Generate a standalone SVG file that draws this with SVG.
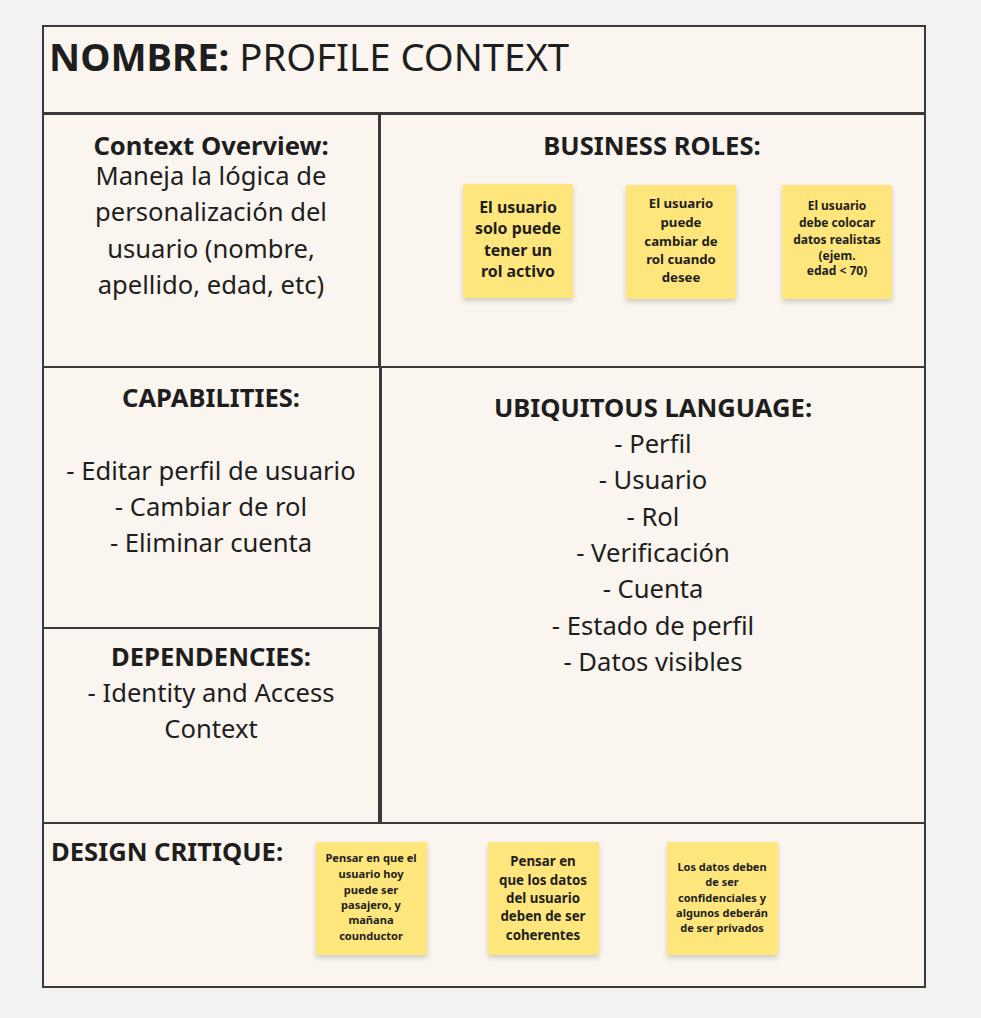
<svg xmlns="http://www.w3.org/2000/svg" width="981" height="1018" viewBox="0 0 981 1018">
  <defs>
    <filter id="stickyShadow" x="-20%" y="-20%" width="140%" height="150%">
      <feDropShadow dx="0" dy="3" stdDeviation="2.5" flood-color="#000" flood-opacity="0.18"/>
    </filter>
  </defs>
  <style>
    text { font-family: "Noto Sans", "Open Sans", sans-serif; fill: #1e1e1e; }
    .panel { fill: #faf6ef; stroke: #3a3a3a; stroke-width: 2; }
    .h { font-weight: 700; font-size: 25.6px; text-anchor: middle; }
    .b { font-size: 25.6px; text-anchor: middle; }
    .sticky { fill: #fee67c; filter: url(#stickyShadow); }
    .st { font-weight: 700; text-anchor: middle; }
  </style>

  <rect width="981" height="1018" fill="#f2f2f2"/>

  <!-- title -->
  <g id="title">
    <rect class="panel" x="43" y="26" width="882" height="87"/>
    <text x="49" y="71" style="font-size:38.3px"><tspan font-weight="700">NOMBRE:</tspan> PROFILE CONTEXT</text>
  </g>

  <!-- context overview -->
  <g id="overview">
    <rect class="panel" x="43" y="114" width="336" height="253"/>
    <text class="h" x="211" y="155">Context Overview:</text>
    <text class="b" x="211" y="185">Maneja la lógica de</text>
    <text class="b" x="211" y="221">personalización del</text>
    <text class="b" x="211" y="258">usuario (nombre,</text>
    <text class="b" x="211" y="294">apellido, edad, etc)</text>
  </g>

  <!-- business roles -->
  <g id="business-roles">
    <rect class="panel" x="380" y="114" width="545" height="253"/>
    <text class="h" x="652" y="155">BUSINESS ROLES:</text>
  </g>
  <g id="role-1">
    <rect class="sticky" x="463" y="184" width="110" height="114"/>
    <text class="st" x="518" y="213" font-size="15.9">El usuario</text>
    <text class="st" x="518" y="234" font-size="15.9">solo puede</text>
    <text class="st" x="518" y="256" font-size="15.9">tener un</text>
    <text class="st" x="518" y="277" font-size="15.9">rol activo</text>
  </g>
  <g id="role-2">
    <rect class="sticky" x="626" y="185" width="110" height="114"/>
    <text class="st" x="681" y="208" font-size="13.2">El usuario</text>
    <text class="st" x="681" y="227" font-size="13.2">puede</text>
    <text class="st" x="681" y="246" font-size="13.2">cambiar de</text>
    <text class="st" x="681" y="264" font-size="13.2">rol cuando</text>
    <text class="st" x="681" y="282" font-size="13.2">desee</text>
  </g>
  <g id="role-3">
    <rect class="sticky" x="782" y="185" width="110" height="114"/>
    <text class="st" x="837" y="210" font-size="12">El usuario</text>
    <text class="st" x="837" y="227" font-size="12">debe colocar</text>
    <text class="st" x="837" y="244" font-size="12">datos realistas</text>
    <text class="st" x="837" y="260" font-size="12">(ejem.</text>
    <text class="st" x="837" y="275" font-size="12">edad &lt; 70)</text>
  </g>

  <!-- capabilities -->
  <g id="capabilities">
    <rect class="panel" x="43" y="367" width="337" height="261"/>
    <text class="h" x="211" y="407">CAPABILITIES:</text>
    <text class="b" x="211" y="480">- Editar perfil de usuario</text>
    <text class="b" x="211" y="516">- Cambiar de rol</text>
    <text class="b" x="211" y="552">- Eliminar cuenta</text>
  </g>

  <!-- dependencies -->
  <g id="dependencies">
    <rect class="panel" x="43" y="628" width="336" height="195"/>
    <text class="h" x="211" y="666">DEPENDENCIES:</text>
    <text class="b" x="211" y="702">- Identity and Access</text>
    <text class="b" x="211" y="738">Context</text>
  </g>

  <!-- ubiquitous language -->
  <g id="ubiquitous-language">
    <rect class="panel" x="381" y="367" width="544" height="456"/>
    <text class="h" x="653" y="417">UBIQUITOUS LANGUAGE:</text>
    <text class="b" x="653" y="453">- Perfil</text>
    <text class="b" x="653" y="489">- Usuario</text>
    <text class="b" x="653" y="526">- Rol</text>
    <text class="b" x="653" y="562">- Verificación</text>
    <text class="b" x="653" y="598">- Cuenta</text>
    <text class="b" x="653" y="635">- Estado de perfil</text>
    <text class="b" x="653" y="671">- Datos visibles</text>
  </g>

  <!-- design critique -->
  <g id="design-critique">
    <rect class="panel" x="43" y="823" width="882" height="164"/>
    <text x="51" y="861" style="font-weight:700;font-size:25.6px">DESIGN CRITIQUE:</text>
  </g>
  <g id="critique-1">
    <rect class="sticky" x="316" y="842" width="111" height="113"/>
    <text class="st" x="371" y="862" font-size="11.1">Pensar en que el</text>
    <text class="st" x="371" y="878" font-size="11.1">usuario hoy</text>
    <text class="st" x="371" y="894" font-size="11.1">puede ser</text>
    <text class="st" x="371" y="909" font-size="11.1">pasajero, y</text>
    <text class="st" x="371" y="924" font-size="11.1">mañana</text>
    <text class="st" x="371" y="940" font-size="11.1">counductor</text>
  </g>
  <g id="critique-2">
    <rect class="sticky" x="488" y="842" width="111" height="113"/>
    <text class="st" x="543" y="866" font-size="13.3">Pensar en</text>
    <text class="st" x="543" y="885" font-size="13.3">que los datos</text>
    <text class="st" x="543" y="903" font-size="13.3">del usuario</text>
    <text class="st" x="543" y="921" font-size="13.3">deben de ser</text>
    <text class="st" x="543" y="940" font-size="13.3">coherentes</text>
  </g>
  <g id="critique-3">
    <rect class="sticky" x="667" y="842" width="111" height="113"/>
    <text class="st" x="722" y="871" font-size="11">Los datos deben</text>
    <text class="st" x="722" y="886" font-size="11">de ser</text>
    <text class="st" x="722" y="902" font-size="11">confidenciales y</text>
    <text class="st" x="722" y="917" font-size="11">algunos deberán</text>
    <text class="st" x="722" y="932" font-size="11">de ser privados</text>
  </g>

  <!-- no connectors in this canvas -->
  <g id="connectors"/>
</svg>
